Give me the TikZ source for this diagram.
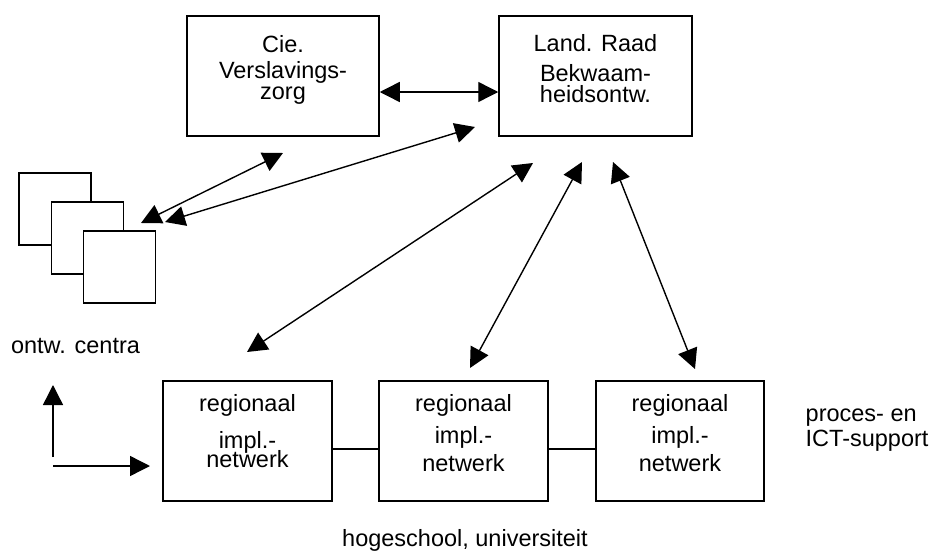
\documentclass[tikz,border=0pt]{standalone}
\usepackage{fontspec}
\setmainfont{Liberation Sans}
\usetikzlibrary{arrows.meta}
\begin{document}
\begin{tikzpicture}[x=1pt,y=-1pt,
  box/.style={draw, line width=1.5pt, inner sep=0pt},
  sq/.style={draw, fill=white, line width=1.5pt, minimum size=72pt, inner sep=0pt},
  txt/.style={font=\fontsize{23.5}{21}\selectfont, align=center, anchor=base, inner sep=0pt},
  ltxt/.style={font=\fontsize{23.5}{25}\selectfont, align=left, anchor=base west, inner sep=0pt},
  con/.style={line width=1.4pt},
  dbl/.style={line width=1.4pt, {Triangle[length=20pt,width=20pt]}-{Triangle[length=20pt,width=20pt]}},
  sgl/.style={line width=1.4pt, -{Triangle[length=20pt,width=20pt]}}]
\useasboundingbox (0,0) rectangle (935,554);
% top boxes
\node[box, minimum width=192pt, minimum height=120pt] (cie) at (283,76) {};
\node[box, minimum width=193pt, minimum height=120pt] (raad) at (595.5,76) {};
\node[txt] (cietxt) at (283,99) {Cie.\\[5pt]Verslavings-\\zorg};
\node[txt] (raadtxt) at (595.5,102) {Land. Raad\\[9pt]Bekwaam-\\heidsontw.};
% stacked squares
\node[sq] (sq1) at (55,209) {};
\node[sq] (sq2) at (87.5,238) {};
\node[sq] (sq3) at (119.5,267) {};
\node[txt] (ontw) at (75.5,353) {ontw. centra};
% bottom boxes
\node[box, minimum width=169pt, minimum height=120pt] (r1) at (247.5,441) {};
\node[box, minimum width=169pt, minimum height=120pt] (r2) at (463.5,441) {};
\node[box, minimum width=168pt, minimum height=120pt] (r3) at (680,441) {};
\node[txt] (r1txt) at (247.5,467) {regionaal\\[14pt]impl.-\\[-4pt]netwerk};
\node[txt] (r2txt) at (463.5,471) {regionaal\\[9pt]impl.-\\[5pt]netwerk};
\node[txt] (r3txt) at (680,471) {regionaal\\[9pt]impl.-\\[5pt]netwerk};
\node[ltxt] (proces) at (805.5,446) {proces- en\\ICT-support};
\node[txt] (hoge) at (465,546) {hogeschool, universiteit};
% connectors between boxes
\coordinate (h) at (0,92);
\coordinate (m) at (0,449);
\draw[dbl] (cie.east |- h) -- (raad.west |- h);
\draw[con] (r1.east |- m) -- (r2.west |- m);
\draw[con] (r2.east |- m) -- (r3.west |- m);
% free-floating arrows
\coordinate (a1s) at (141,223); \coordinate (a1e) at (283,153);
\coordinate (a2s) at (165,222); \coordinate (a2e) at (475,127);
\coordinate (a3s) at (247,352); \coordinate (a3e) at (533,163);
\coordinate (a4s) at (470,368); \coordinate (a4e) at (582,162);
\coordinate (a5s) at (613,162); \coordinate (a5e) at (695,369);
\draw[dbl] (a1s) -- (a1e);
\draw[dbl] (a2s) -- (a2e);
\draw[dbl] (a3s) -- (a3e);
\draw[dbl] (a4s) -- (a4e);
\draw[dbl] (a5s) -- (a5e);
% corner axes
\coordinate (vs) at (53,457); \coordinate (ve) at (53,385);
\coordinate (hs) at (53,466); \coordinate (he) at (150,466);
\draw[sgl] (vs) -- (ve);
\draw[sgl] (hs) -- (he);
\end{tikzpicture}
\end{document}
